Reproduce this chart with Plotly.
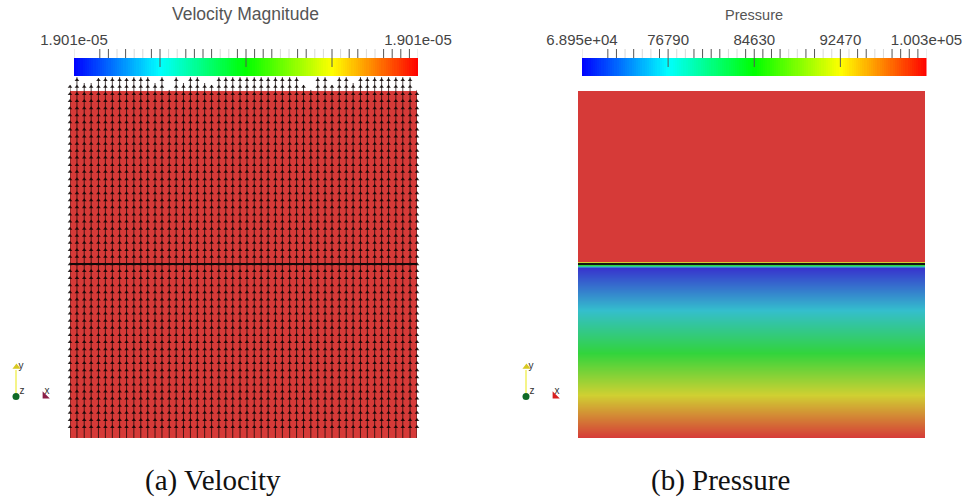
import plotly.graph_objects as go

W, H = 969, 499

# ---- data -------------------------------------------------------------
velocity_magnitude = 1.901e-05
pressure_min, pressure_max = 68950, 100300
velocity_titles = "Velocity Magnitude"
pressure_title = "Pressure"
caption_a, caption_b = "(a) Velocity", "(b) Pressure"

grid_x = [0, .020, .041, .061, .082, .102, .122, .143, .163, .184, .204, .224, .245, .265, .286,
          .306, .327, .347, .367, .388, .408, .429, .449, .469, .490, .510, .531, .551, .571, .592,
          .612, .633, .653, .673, .694, .714, .735, .755, .776, .796, .816, .837, .857, .878, .898,
          .918, .939, .959, .980, 1]
grid_y = [.032, .052, .073, .093, .114, .134, .154, .175, .195, .216, .236, .256, .277, .297, .318,
          .338, .359, .379, .399, .420, .440, .461, .481, .501, .522, .542, .563, .583, .603, .624,
          .644, .665, .685, .705, .726, .746, .767, .787, .808, .828, .848, .869, .889, .910, .930,
          .950, .971, .991, 1.012, 1.032]
column_tops = [1.017, 1.040, 1.023, 1.023, 1.037, 1.040, 1.040, 1.040, 1.037, 1.040, 1.040, 1.040, 1.023,
               1.040, 1.003, 1.040, 1.023, 1.040, 1.040, 1.023, 1.017, 1.040, 1.040, 1.040, 1.040,
               1.040, 1.040, 1.040, 1.040, 1.040, 1.040, 1.040, 1.040, 1.017, 1.003, 1.040, 1.040,
               1.017, 1.040, 1.040, 1.023, 1.040, 1.040, 1.040, 1.040, 1.040, 1.040, 1.040, 1.040, 1.003]
interface_y = .5014

pressure_y = [0, .123, .246, .370, .490, .494, .500, .5055, .5075, .5105, 1]
pressure_z = [100300, 92470, 84630, 76790, 69000, 73000, 84630, 92470, 92470, 100300, 100300]

bar_steps = 40
major_ticks = [10, 20, 30]
dark_ticks = [3, 4, 6, 9, 13, 14, 15, 16, 19, 21, 22, 23, 26, 27, 32, 33, 36, 37, 38, 39]
faint_ticks = [0, 5, 7, 8, 11, 12, 17, 18, 24, 25, 28, 29, 31, 34, 35, 40]
velocity_labels = {0: "1.901e-05", 40: "1.901e-05"}
pressure_labels = {0: "6.895e+04", 10: "76790", 20: "84630", 30: "92470", 40: "1.003e+05"}

# ---- colours ----------------------------------------------------------
surface_scale = [[0, "rgb(55,52,205)"], [.25, "rgb(52,190,205)"], [.5, "rgb(50,212,60)"],
                 [.75, "rgb(208,208,50)"], [1, "rgb(214,58,56)"]]
bar_scale = [[0, "rgb(0,0,255)"], [.25, "rgb(0,255,255)"], [.5, "rgb(0,255,0)"],
             [.75, "rgb(255,255,0)"], [1, "rgb(255,0,0)"]]

def px(x): return x / W
def py(y): return 1 - y / H

fig = go.Figure()

def add_axes(n, x0, x1, y0, y1, xr, yr, **xkw):
    fig.layout[f"xaxis{n}"] = dict(domain=[px(x0), px(x1)], range=xr, anchor=f"y{n}", showgrid=False,
                                   zeroline=False, showline=False, ticks="", showticklabels=False,
                                   automargin=False, **xkw)
    fig.layout[f"yaxis{n}"] = dict(domain=[py(y1), py(y0)], range=yr, anchor=f"x{n}", showgrid=False,
                                   zeroline=False, showline=False, ticks="", showticklabels=False,
                                   automargin=False)

# ---- velocity panel ---------------------------------------------------
add_axes(1, 70, 417, 77, 438, [0, 1], [0, 1.0403])
fig.add_heatmap(z=[[velocity_magnitude]], x=[0, 1], y=[0, 1], zmin=0, zmax=velocity_magnitude,
                colorscale=surface_scale, showscale=False, xaxis="x1", yaxis="y1", hoverinfo="skip")
line_x, line_y, mark_x, mark_y = [], [], [], []
for cx, top in zip(grid_x, column_tops):
    line_x += [cx, cx, None]
    line_y += [0, top, None]
    for gy in grid_y:
        if gy <= top:
            mark_x.append(cx)
            mark_y.append(gy)
fig.add_scatter(x=line_x, y=line_y, mode="lines", line=dict(color="rgba(20,8,8,.75)", width=1),
                xaxis="x1", yaxis="y1", showlegend=False, hoverinfo="skip", cliponaxis=False)
fig.add_scatter(x=mark_x, y=mark_y, mode="markers",
                marker=dict(symbol="triangle-up", size=4, color="rgba(10,5,5,.85)", line=dict(width=0)),
                xaxis="x1", yaxis="y1", showlegend=False, hoverinfo="skip", cliponaxis=False)
fig.add_scatter(x=[0, 1], y=[interface_y, interface_y], mode="lines", line=dict(color="#120808", width=2.2),
                xaxis="x1", yaxis="y1", showlegend=False, hoverinfo="skip")

# ---- pressure panel ---------------------------------------------------
add_axes(2, 578, 925, 91, 438, [0, 1], [0, 1])
fig.add_heatmap(z=[[v, v] for v in pressure_z], x=[0, 1], y=pressure_y, zmin=pressure_min, zmax=pressure_max,
                zsmooth="best", colorscale=surface_scale, showscale=False, xaxis="x2", yaxis="y2", hoverinfo="skip")
fig.add_scatter(x=[0, 1], y=[interface_y, interface_y], mode="lines", line=dict(color="#151515", width=2.2),
                xaxis="x2", yaxis="y2", showlegend=False, hoverinfo="skip")

# ---- colour bars ------------------------------------------------------
def add_bar(n, x0, x1, labels):
    add_axes(n, x0, x1, 49, 76, [0, bar_steps], [0, 27])
    fig.layout[f"xaxis{n}"].update(side="top", showticklabels=True, tickmode="array",
                                   tickvals=list(labels), ticktext=list(labels.values()),
                                   tickfont=dict(family="Liberation Sans", size=15, color="#444"))
    band_edges = [i / 4 for i in range(bar_steps * 4 + 1)]
    band_vals = [(a + b) / 2 for a, b in zip(band_edges, band_edges[1:])]
    fig.add_heatmap(z=[band_vals], x=band_edges, y=[0, 18], zmin=0, zmax=bar_steps, colorscale=bar_scale,
                    showscale=False, xaxis=f"x{n}", yaxis=f"y{n}", hoverinfo="skip")
    for ticks, y0, y1, col in [(faint_ticks, 18, 27, "#d8d8d8"), (dark_ticks, 18, 27, "#555"),
                               (major_ticks, 9, 27, "#555")]:
        xs, ys = [], []
        for t in ticks:
            xs += [t, t, None]
            ys += [y0, y1, None]
        fig.add_scatter(x=xs, y=ys, mode="lines", line=dict(color=col, width=1), xaxis=f"x{n}", yaxis=f"y{n}",
                        showlegend=False, hoverinfo="skip", cliponaxis=False)

add_bar(3, 74, 418, velocity_labels)
add_bar(4, 582, 926.5, pressure_labels)

# ---- orientation triads ----------------------------------------------
add_axes(5, 0, W, 0, H, [0, W], [H, 0])
def triad(ox, arrow_col):
    fig.add_scatter(x=[ox, ox], y=[396, 370], mode="lines", line=dict(color="#f2f060", width=1.5),
                    xaxis="x5", yaxis="y5", showlegend=False, hoverinfo="skip")
    fig.add_scatter(x=[ox + .5], y=[367], mode="markers", marker=dict(symbol="triangle-up", size=7, color="#d8c820"),
                    xaxis="x5", yaxis="y5", showlegend=False, hoverinfo="skip")
    fig.add_scatter(x=[ox], y=[396.5], mode="markers", marker=dict(size=7, color="#0f6a25"),
                    xaxis="x5", yaxis="y5", showlegend=False, hoverinfo="skip")
    fig.add_scatter(x=[ox + 29], y=[396], mode="markers", marker=dict(symbol="triangle-sw", size=8, color=arrow_col),
                    xaxis="x5", yaxis="y5", showlegend=False, hoverinfo="skip")
    fig.add_scatter(x=[ox + 5, ox + 6, ox + 31], y=[366, 391, 391], mode="text", text=["y", "z", "x"],
                    textfont=dict(size=10, color="#333", family="Liberation Sans"),
                    xaxis="x5", yaxis="y5", showlegend=False, hoverinfo="skip")
triad(16, "#8a2048")
triad(526, "#d82020")

# ---- titles -----------------------------------------------------------
def note(text, x, y, size, family, color):
    fig.add_annotation(text=text, xref="paper", yref="paper", x=px(x), y=py(y), showarrow=False,
                       xanchor="center", yanchor="middle", font=dict(family=family, size=size, color=color))
note(velocity_titles, 245, 14, 17.5, "Liberation Sans", "#555")
note(pressure_title, 754, 15, 14.5, "Liberation Sans", "#555")
note(caption_a, 213, 480, 29, "Liberation Serif", "#111")
note(caption_b, 720, 480, 29, "Liberation Serif", "#111")

fig.update_layout(width=W, height=H, margin=dict(l=0, r=0, t=0, b=0), paper_bgcolor="white",
                  plot_bgcolor="rgba(0,0,0,0)", showlegend=False)
fig.write_html("out.html", config={"displayModeBar": False},
               post_script="document.body.style.margin='0';document.body.style.overflow='hidden';")
